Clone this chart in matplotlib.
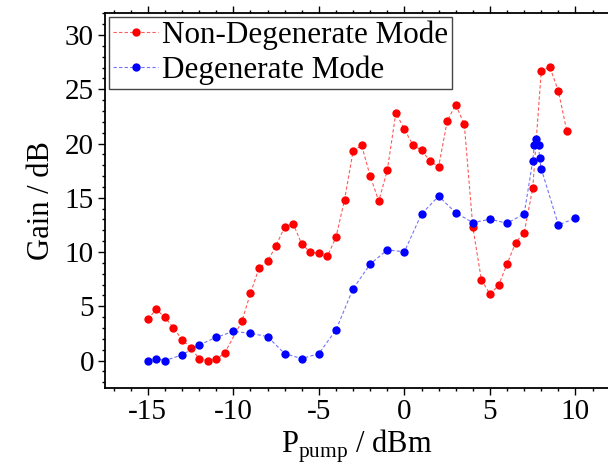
import matplotlib
matplotlib.use('Agg')
import matplotlib.pyplot as plt
from matplotlib.ticker import MultipleLocator

plt.rcParams['font.family'] = ['Liberation Serif', 'DejaVu Serif']
plt.rcParams['mathtext.fontset'] = 'custom'
plt.rcParams['mathtext.rm'] = 'Liberation Serif'
plt.rcParams['axes.unicode_minus'] = False

# Non-degenerate mode: pump power (dBm) and gain (dB)
p_nondeg = [-15, -14.5, -14, -13.5, -13, -12.5, -12, -11.5, -11, -10.5,
            -9.5, -9, -8.5, -8, -7.5, -7, -6.5, -6, -5.5, -5, -4.5, -4,
            -3.5, -3, -2.5, -2, -1.5, -1, -0.5, 0, 0.5, 1, 1.5, 2, 2.5, 3,
            3.5, 4, 4.5, 5, 5.5, 6, 6.5, 7, 7.5, 8, 8.5, 9, 9.5]
g_nondeg = [3.83, 4.71, 3.98, 3.03, 1.93, 1.19, 0.18, 0.0, 0.12, 0.71,
            3.61, 6.19, 8.52, 9.13, 10.6, 12.32, 12.62, 10.71, 10.0, 9.88,
            9.62, 11.37, 14.8, 19.3, 19.83, 17.0, 14.7, 17.53, 22.82, 21.32,
            19.85, 19.39, 18.38, 17.86, 22.06, 23.59, 21.76, 12.29, 7.44,
            6.13, 6.92, 8.89, 10.87, 11.79, 15.87, 26.68, 27.05, 24.82, 21.11]

# Degenerate mode
p_deg = [-15, -14.5, -14, -13, -12, -11, -10, -9, -8, -7, -6, -5, -4, -3,
         -2, -1, 0, 1, 2, 3, 4, 5, 6, 7, 7.5, 7.6, 7.7, 7.85, 7.9, 8.0,
         9, 10]
g_deg = [0.0, 0.18, 0.0, 0.52, 1.44, 2.14, 2.69, 2.51, 2.21, 0.64, 0.18,
         0.64, 2.82, 6.62, 8.89, 10.2, 10.02, 13.51, 15.14, 13.63, 12.71,
         13.02, 12.66, 13.51, 18.38, 19.91, 20.4, 19.91, 18.63, 17.67,
         12.5, 13.12]

xticks = [-15, -10, -5, 0, 5, 10]
yticks = [0, 5, 10, 15, 20, 25, 30]

fig = plt.figure(figsize=(6.08, 4.72), dpi=100)
ax = fig.add_axes([105 / 608, 84.3 / 472, 503 / 608, 374.4 / 472])

dash = (0, (3, 2))
ax.plot(p_nondeg, g_nondeg, color=(1, 0, 0, 0.65), ls=dash, lw=0.8,
        marker='o', ms=6, mfc='red', mec='red', mew=0,
        label='Non-Degenerate Mode')
ax.plot(p_deg, g_deg, color=(0, 0, 1, 0.55), ls=dash, lw=0.8,
        marker='o', ms=6, mfc='blue', mec='blue', mew=0,
        label='Degenerate Mode')

ax.set_xlim(-17.5, 11.9)
ax.set_ylim(-2.5, 32)
ax.set_xticks(xticks)
ax.set_yticks(yticks)
ax.xaxis.set_minor_locator(MultipleLocator(1))
ax.yaxis.set_minor_locator(MultipleLocator(1))
ax.tick_params(which='both', direction='out', top=True, right=False,
               width=1, labelsize=21)
ax.tick_params(which='major', length=5, pad=3)
ax.tick_params(which='minor', length=2.3)
ax.spines['right'].set_visible(False)
for s in ('left', 'bottom', 'top'):
    ax.spines[s].set_linewidth(1.3)

ax.set_xlabel(r'P$_{\mathrm{pump}}$ / dBm', fontsize=22, labelpad=2)
ax.set_ylabel('Gain / dB', fontsize=22, labelpad=6)

leg = ax.legend(loc='upper left', bbox_to_anchor=(0.0085, 0.991),
                borderaxespad=0, fontsize=22.4, frameon=True, fancybox=False,
                framealpha=1, edgecolor='#444444', borderpad=0.12,
                labelspacing=0.18, handletextpad=0.12, handlelength=1.45,
                numpoints=1)
leg.get_frame().set_linewidth(1)

fig.savefig('out.png', dpi=100)
